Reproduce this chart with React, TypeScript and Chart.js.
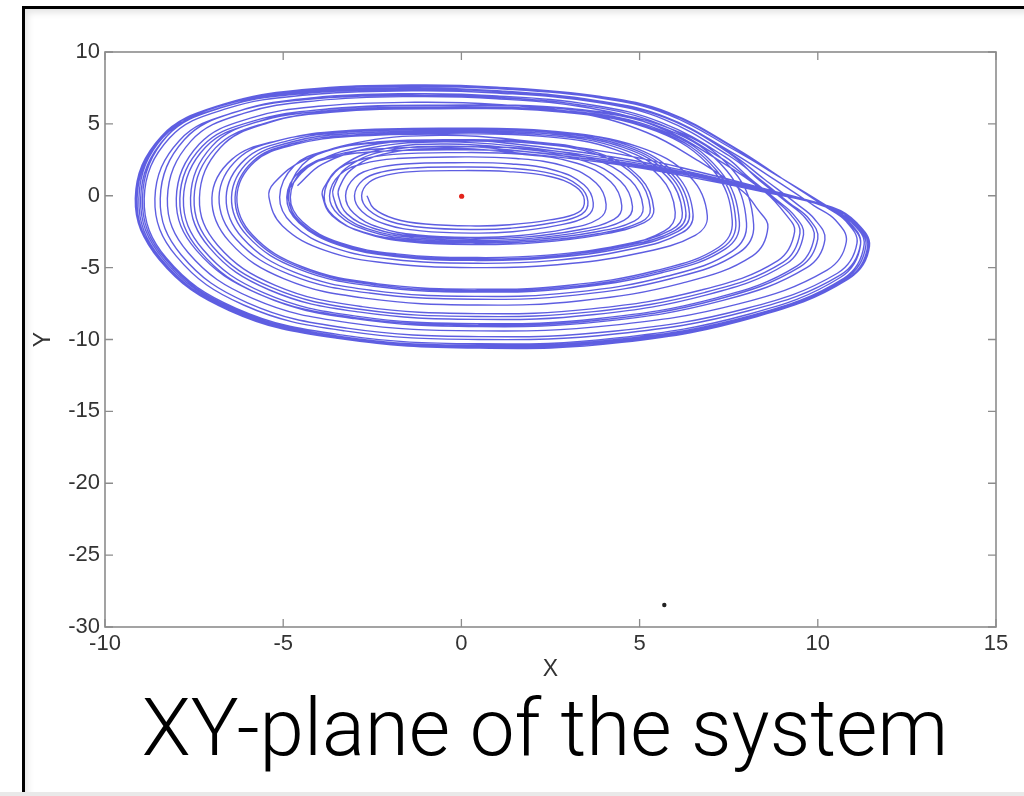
import { useEffect, useRef } from 'react';
import { Chart, registerables } from 'chart.js';

Chart.register(...registerables);

const X_TICKS = [-10, -5, 0, 5, 10, 15];
const Y_TICKS = [10, 5, 0, -5, -10, -15, -20, -25, -30];
const X_LABEL = 'X';
const Y_LABEL = 'Y';
const CAPTION = 'XY-plane of the system';

// equilibrium points
const EQ_INNER = [[0.007, -0.035]];
const EQ_OUTER = [[5.693, -28.465]];

// trajectory, one revolution per array
const rev01 = [[-2.65,0],[-2.46,-0.88],[-1.88,-1.6],[-1.01,-1.97],[0.4,-2.1],[1.35,-2.02],[2.48,-1.68],[3.28,-1.16],[3.45,-0.3],[3.21,0.62],[2.48,1.34],[1.31,1.68],[-0.2,1.75],[-1.37,1.68],[-2.07,1.45],[-2.58,0.96]];
const rev02 = [[-2.8,0],[-2.6,-0.99],[-1.99,-1.79],[-1.06,-2.21],[0.4,-2.35],[1.38,-2.26],[2.56,-1.88],[3.37,-1.29],[3.55,-0.4],[3.3,0.68],[2.56,1.52],[1.35,1.92],[-0.2,2.0],[-1.47,1.92],[-2.22,1.66],[-2.76,1.1]];
const rev03 = [[-3.0,0],[-2.79,-1.09],[-2.13,-1.98],[-1.14,-2.44],[0.4,-2.6],[1.44,-2.5],[2.66,-2.08],[3.52,-1.43],[3.7,-0.5],[3.44,0.76],[2.66,1.74],[1.41,2.21],[-0.2,2.3],[-1.59,2.21],[-2.41,1.91],[-2.99,1.27]];
const rev04 = [[-3.25,0],[-3.02,-1.22],[-2.31,-2.2],[-1.24,-2.73],[0.4,-2.9],[1.58,-2.78],[2.92,-2.32],[3.86,-1.6],[4.06,-0.6],[3.78,0.89],[2.92,2.04],[1.54,2.59],[-0.25,2.7],[-1.81,2.59],[-2.74,2.24],[-3.4,1.49]];
const rev05 = [[-3.7,0],[-3.44,-1.34],[-2.63,-2.43],[-1.41,-3.01],[0.4,-3.2],[1.99,-3.07],[3.67,-2.56],[4.85,-1.76],[5.1,-0.8],[4.74,1.09],[3.67,2.56],[1.94,3.26],[-0.3,3.4],[-2.35,3.26],[-3.55,2.82],[-4.42,1.87]];
const rev06 = [[-4.8,-0.1],[-4.46,-1.81],[-3.41,-3.27],[-1.82,-4.04],[0.45,-4.3],[2.42,-4.13],[4.46,-3.44],[5.89,-2.37],[6.2,-1.2],[5.77,1.32],[4.46,3.28],[2.36,4.22],[-0.4,4.4],[-3.11,4.22],[-4.7,3.65],[-5.84,2.42]];
const rev07 = [[-6.35,-0.1],[-5.91,-2.77],[-4.51,-5.02],[-2.41,-6.2],[0.45,-6.6],[3.0,-6.34],[5.54,-5.28],[7.32,-3.63],[7.7,-1.8],[7.16,1.76],[5.54,4.52],[2.93,5.86],[-0.8,6.1],[-3.6,5.86],[-5.44,5.06],[-6.76,3.36]];
const rev08 = [[-7.35,-0.15],[-6.84,-3.44],[-5.22,-6.23],[-2.79,-7.71],[0.45,-8.2],[3.65,-7.87],[6.73,-6.56],[8.88,-4.51],[9.35,-2.5],[9.1,-1.3],[8.5,0.3],[7.2,2.5],[5.5,4.8],[3.6,6.1],[1.0,6.75],[-1.4,6.9],[-4.04,6.62],[-6.11,5.73],[-7.59,3.8]];
const rev09 = [[-8.25,-0.2],[-7.67,-3.95],[-5.86,-7.14],[-3.14,-8.84],[0.5,-9.4],[4.21,-9.02],[7.78,-7.52],[10.26,-5.17],[10.8,-3.2],[10.5,-1.7],[9.9,-0.7],[8.8,1.1],[7.6,3.0],[5.7,5.5],[3.8,6.6],[1.0,7.3],[-1.4,7.5],[-4.48,7.2],[-6.77,6.23],[-8.42,4.13]];
const rev10 = [[-9.15,-0.2],[-8.5,-4.3],[-6.5,-8.0],[-3.5,-9.9],[0.5,-10.6],[4.5,-10.2],[8.3,-8.4],[10.9,-5.7],[11.45,-3.5],[11.1,-1.9],[10.4,-0.8],[8.6,0.3],[6.2,1.6],[4.3,2.4],[1.5,3.3],[-0.5,3.6],[-2.3,3.2],[-3.4,2.0],[-3.85,0.6]];
const rev11 = [[-3.9,0],[-3.63,-1.39],[-2.77,-2.51],[-1.48,-3.1],[0.4,-3.3],[2.07,-3.17],[3.82,-2.64],[5.04,-1.82],[5.3,-0.9],[4.93,1.22],[3.82,2.86],[2.01,3.65],[-0.3,3.8],[-2.5,3.65],[-3.77,3.15],[-4.69,2.09]];
const rev12 = [[-5.1,-0.1],[-4.74,-1.97],[-3.62,-3.57],[-1.94,-4.42],[0.45,-4.7],[2.54,-4.51],[4.68,-3.76],[6.18,-2.59],[6.5,-1.3],[6.05,1.4],[4.68,3.5],[2.47,4.51],[-0.4,4.7],[-3.33,4.51],[-5.03,3.9],[-6.26,2.59]];
const rev13 = [[-6.8,-0.1],[-6.32,-3.02],[-4.83,-5.47],[-2.58,-6.77],[0.45,-7.2],[3.2,-6.91],[5.9,-5.76],[7.79,-3.96],[8.2,-2.0],[7.63,1.74],[5.9,4.64],[3.12,6.05],[-0.9,6.3],[-3.72,6.05],[-5.62,5.23],[-6.99,3.47]];
const rev14 = [[-7.6,-0.15],[-7.07,-3.61],[-5.4,-6.54],[-2.89,-8.08],[0.45,-8.6],[3.74,-8.26],[6.91,-6.88],[9.12,-4.73],[9.6,-2.7],[9.35,-1.4],[8.8,-0.2],[8.1,1.2],[7.4,2.7],[5.6,5.1],[3.7,6.3],[1.0,6.95],[-1.4,7.1],[-4.14,6.82],[-6.25,5.89],[-7.77,3.91]];
const rev15 = [[-8.45,-0.2],[-7.86,-4.12],[-6.0,-7.45],[-3.21,-9.21],[0.5,-9.8],[4.33,-9.41],[7.99,-7.84],[10.55,-5.39],[11.1,-3.3],[10.8,-1.8],[10.2,-0.75],[9.0,1.2],[7.7,3.3],[5.8,5.8],[3.9,6.9],[1.0,7.55],[-1.4,7.7],[-4.39,7.39],[-6.62,6.39],[-8.23,4.24]];
const rev16 = [[-8.95,-0.2],[-8.32,-4.37],[-6.35,-7.9],[-3.4,-9.78],[0.5,-10.4],[4.41,-9.98],[8.14,-8.32],[10.74,-5.72],[11.3,-3.4],[10.95,-1.85],[10.3,-0.8],[8.5,0.5],[6.1,2.0],[4.2,3.0],[1.5,3.9],[-0.6,4.2],[-2.7,3.8],[-4.4,2.5],[-5.25,0.9]];
const rev17 = [[-5.4,-0.1],[-5.02,-2.1],[-3.83,-3.8],[-2.05,-4.7],[0.45,-5.0],[2.69,-4.8],[4.97,-4.0],[6.56,-2.75],[6.9,-1.4],[6.42,1.3],[4.97,3.4],[2.62,4.42],[-0.5,4.6],[-3.43,4.42],[-5.18,3.82],[-6.44,2.53]];
const rev18 = [[-7.0,-0.15],[-6.51,-3.19],[-4.97,-5.78],[-2.66,-7.14],[0.45,-7.6],[3.35,-7.3],[6.19,-6.08],[8.17,-4.18],[8.6,-2.2],[8.3,-0.9],[7.9,0.3],[6.6,2.5],[5.2,4.4],[3.4,5.7],[1.0,6.35],[-1.3,6.5],[-3.92,6.24],[-5.92,5.4],[-7.36,3.58]];
const rev19 = [[-8.0,-0.2],[-7.44,-3.78],[-5.68,-6.84],[-3.04,-8.46],[0.5,-9.0],[3.9,-8.64],[7.2,-7.2],[9.5,-4.95],[10.0,-3.0],[9.75,-1.6],[9.2,-0.5],[8.4,1.1],[7.5,2.8],[5.7,5.3],[3.8,6.5],[1.0,7.15],[-1.4,7.3],[-4.36,7.01],[-6.59,6.06],[-8.19,4.02]];
const rev20 = [[-8.9,-0.2],[-8.28,-4.33],[-6.32,-7.83],[-3.38,-9.68],[0.5,-10.3],[4.37,-9.89],[8.06,-8.24],[10.64,-5.67],[11.2,-3.4],[10.85,-1.85],[10.2,-0.75],[8.6,0.2],[6.2,1.4],[4.3,2.2],[1.5,3.0],[-0.4,3.3],[-2.2,2.9],[-3.1,1.8],[-3.42,0.6]];
const rev21 = [[-3.45,0],[-3.21,-1.26],[-2.45,-2.28],[-1.31,-2.82],[0.4,-3.0],[1.76,-2.88],[3.24,-2.4],[4.28,-1.65],[4.5,-0.7],[4.19,0.97],[3.24,2.26],[1.71,2.88],[-0.3,3.0],[-1.89,2.88],[-2.85,2.49],[-3.54,1.65]];
const rev22 = [[-3.85,-0.05],[-3.58,-1.43],[-2.73,-2.58],[-1.46,-3.2],[0.4,-3.4],[2.11,-3.26],[3.89,-2.72],[5.13,-1.87],[5.4,-0.95],[5.02,1.23],[3.89,2.93],[2.05,3.74],[-0.35,3.9],[-2.38,3.74],[-3.59,3.24],[-4.46,2.15]];
const rev23 = [[-4.85,-0.1],[-4.51,-1.85],[-3.44,-3.34],[-1.84,-4.14],[0.45,-4.4],[2.46,-4.22],[4.54,-3.52],[5.99,-2.42],[6.3,-1.2],[5.86,1.37],[4.54,3.36],[2.39,4.32],[-0.4,4.5],[-3.16,4.32],[-4.77,3.74],[-5.93,2.48]];
const rev24 = [[-6.45,-0.1],[-6.0,-2.81],[-4.58,-5.09],[-2.45,-6.3],[0.45,-6.7],[3.04,-6.43],[5.62,-5.36],[7.41,-3.69],[7.8,-1.85],[7.25,1.75],[5.62,4.55],[2.96,5.9],[-0.8,6.15],[-3.82,5.9],[-5.77,5.1],[-7.18,3.38]];
const rev25 = [[-7.8,-0.2],[-7.25,-3.74],[-5.54,-6.76],[-2.96,-8.37],[0.5,-8.9],[3.86,-8.54],[7.13,-7.12],[9.41,-4.9],[9.9,-2.9],[9.65,-1.55],[9.1,-0.4],[8.3,1.2],[7.55,2.9],[5.75,5.4],[3.85,6.55],[1.0,7.25],[-1.4,7.4],[-4.46,7.1],[-6.73,6.14],[-8.37,4.07]];
const rev26 = [[-9.1,-0.2],[-8.46,-4.41],[-6.46,-7.98],[-3.46,-9.87],[0.5,-10.5],[4.45,-10.08],[8.21,-8.4],[10.83,-5.78],[11.4,-3.5],[11.05,-1.9],[10.35,-0.8],[8.55,0.4],[6.15,1.8],[4.25,2.7],[1.5,3.6],[-0.5,3.9],[-2.6,3.5],[-4.1,2.3],[-4.8,0.6],[-4.85,-0.3]];
const rev27 = [[-4.53,-1.9],[-3.46,-3.42],[-1.85,-4.23],[0.45,-4.5],[2.5,-4.32],[4.61,-3.6],[6.08,-2.48],[6.4,-1.25],[5.95,1.39],[4.61,3.43],[2.43,4.42],[-0.4,4.6],[-3.23,4.42],[-4.88,3.82],[-6.07,2.53]];
const rev28 = [[-6.6,-0.1],[-6.14,-2.94],[-4.69,-5.32],[-2.51,-6.58],[0.45,-7.0],[3.12,-6.72],[5.76,-5.6],[7.6,-3.85],[8.0,-1.9],[7.44,1.76],[5.76,4.62],[3.04,6.0],[-0.85,6.25],[-3.87,6.0],[-5.85,5.19],[-7.27,3.44]];
const rev29 = [[-7.9,-0.2],[-7.35,-3.82],[-5.61,-6.92],[-3.0,-8.55],[0.5,-9.1],[3.98,-8.74],[7.34,-7.28],[9.69,-5.0],[10.2,-3.05],[9.9,-1.6],[9.4,-0.55],[8.5,1.15],[7.55,2.95],[5.75,5.45],[3.85,6.6],[1.0,7.3],[-1.4,7.45],[-4.41,7.15],[-6.66,6.18],[-8.28,4.1]];
const rev30 = [[-9.0,-0.2],[-8.37,-4.39],[-6.39,-7.94],[-3.42,-9.82],[0.5,-10.45],[4.43,-10.03],[8.17,-8.36],[10.78,-5.75],[11.35,-3.45],[11.0,-1.88],[10.3,-0.78],[9.0,1.2],[7.65,3.2],[5.8,5.65],[3.9,6.8],[1.0,7.45],[-1.4,7.6],[-4.47,7.3],[-6.75,6.31],[-8.39,4.18]];
const rev31 = [[-9.12,-0.2],[-8.48,-4.43],[-6.48,-8.02],[-3.47,-9.92],[0.5,-10.55],[4.45,-10.13],[8.22,-8.44],[10.85,-5.8],[11.42,-3.5],[11.08,-1.9],[10.38,-0.8],[8.6,0.25],[6.2,1.5],[4.3,2.3],[1.5,3.15],[-0.45,3.45],[-2.25,3.05],[-3.25,1.9],[-3.58,0.6]];
const rev32 = [[-3.6,0],[-3.35,-1.3],[-2.56,-2.36],[-1.37,-2.91],[0.4,-3.1],[1.87,-2.98],[3.46,-2.48],[4.56,-1.71],[4.8,-0.75],[4.46,1.02],[3.46,2.41],[1.82,3.07],[-0.3,3.2],[-2.4,3.07],[-3.63,2.66],[-4.51,1.76]];
const rev33 = [[-4.9,-0.1],[-4.56,-1.87],[-3.48,-3.38],[-1.86,-4.18],[0.45,-4.45],[2.34,-4.27],[4.32,-3.56],[5.7,-2.45],[6.0,-1.15],[5.58,1.3],[4.32,3.21],[2.28,4.13],[-0.4,4.3],[-3.09,4.13],[-4.66,3.57],[-5.8,2.37]];
const rev34 = [[-6.3,-0.1],[-5.86,-2.73],[-4.47,-4.94],[-2.39,-6.11],[0.45,-6.5],[2.96,-6.24],[5.47,-5.2],[7.22,-3.58],[7.6,-1.75],[7.07,1.76],[5.47,4.49],[2.89,5.81],[-0.8,6.05],[-3.68,5.81],[-5.55,5.02],[-6.9,3.33]];
const rev35 = [[-7.5,-0.15],[-6.98,-3.53],[-5.33,-6.38],[-2.85,-7.9],[0.45,-8.4],[3.71,-8.06],[6.84,-6.72],[9.03,-4.62],[9.5,-2.6],[9.25,-1.35],[8.7,-0.1],[8.0,1.3],[7.3,2.6],[5.55,5.0],[3.65,6.2],[1.0,6.85],[-1.4,7.0],[-4.21,6.72],[-6.36,5.81],[-7.91,3.85]];
const rev36 = [[-8.6,-0.2],[-8.0,-4.2],[-6.11,-7.6],[-3.27,-9.4],[0.5,-10.0],[4.37,-9.6],[8.06,-8.0],[10.64,-5.5],[11.2,-3.35],[10.88,-1.82],[10.25,-0.77],[9.0,1.2],[7.7,3.25],[5.8,5.75],[3.9,6.85],[1.0,7.5],[-1.4,7.65],[-4.43,7.34],[-6.7,6.35],[-8.33,4.21]];
const rev37 = [[-9.05,-0.2],[-8.42,-4.41],[-6.43,-7.98],[-3.44,-9.87],[0.5,-10.5],[4.45,-10.08],[8.21,-8.4],[10.83,-5.78],[11.4,-3.5],[11.05,-1.9],[10.35,-0.8],[8.55,0.35],[6.15,1.7],[4.25,2.55],[1.5,3.45],[-0.5,3.75],[-2.5,3.35],[-3.9,2.2],[-4.6,0.7]];

const REVOLUTIONS = [rev01, rev02, rev03, rev04, rev05, rev06, rev07, rev08, rev09, rev10, rev11, rev12, rev13,
  rev14, rev15, rev16, rev17, rev18, rev19, rev20, rev21, rev22, rev23, rev24, rev25, rev26, rev27, rev28,
  rev29, rev30, rev31, rev32, rev33, rev34, rev35, rev36, rev37];

const toXY = (arr: number[][]) => arr.map(([x, y]) => ({ x, y }));

const AXIS_GREY = '#8c8c8c';
const LABEL_COLOR = '#333333';
const TICK_FONT = { family: '"Liberation Sans", Arial, sans-serif', size: 22 };

const boxPlugin = {
  id: 'matlabBox',
  afterDraw(chart: any) {
    const { ctx, chartArea: a, scales } = chart;
    const xs = scales.x;
    const ys = scales.y;
    ctx.save();
    ctx.strokeStyle = AXIS_GREY;
    ctx.lineWidth = 1.6;
    ctx.strokeRect(a.left, a.top, a.right - a.left, a.bottom - a.top);
    ctx.lineWidth = 1.3;
    ctx.beginPath();
    X_TICKS.forEach((v) => {
      const p = xs.getPixelForValue(v);
      ctx.moveTo(p, a.bottom); ctx.lineTo(p, a.bottom - 8);
      ctx.moveTo(p, a.top); ctx.lineTo(p, a.top + 8);
    });
    Y_TICKS.forEach((v) => {
      const p = ys.getPixelForValue(v);
      ctx.moveTo(a.left, p); ctx.lineTo(a.left + 8, p);
      ctx.moveTo(a.right, p); ctx.lineTo(a.right - 8, p);
    });
    ctx.stroke();
    ctx.fillStyle = LABEL_COLOR;
    ctx.font = '23px "Liberation Sans", Arial, sans-serif';
    ctx.textAlign = 'center';
    ctx.textBaseline = 'middle';
    ctx.fillText(X_LABEL, (a.left + a.right) / 2, a.bottom + 43);
    ctx.translate(a.left - 61, (a.top + a.bottom) / 2);
    ctx.rotate(-Math.PI / 2);
    ctx.fillText(Y_LABEL, 0, 0);
    ctx.restore();
  },
};

export default function App() {
  const ref = useRef<HTMLCanvasElement | null>(null);

  useEffect(() => {
    if (!ref.current) return;
    const chart = new Chart(ref.current, {
      type: 'scatter',
      data: {
        datasets: [
          {
            data: toXY(REVOLUTIONS.flat()),
            showLine: true,
            borderColor: 'rgba(25,25,212,0.7)',
            borderWidth: 1.4,
            pointRadius: 0,
            tension: 0.4,
            order: 3,
          },
          {
            data: toXY(EQ_INNER),
            pointRadius: 2.6,
            pointBackgroundColor: '#e3241b',
            pointBorderWidth: 0,
            order: 1,
          },
          {
            data: toXY(EQ_OUTER),
            pointRadius: 2.2,
            pointBackgroundColor: '#222',
            pointBorderWidth: 0,
            order: 2,
          },
        ],
      } as any,
      options: {
        responsive: false,
        animation: false,
        layout: { padding: { left: 25, top: 52, right: 28, bottom: 109 } },
        plugins: { legend: { display: false }, tooltip: { enabled: false } },
        scales: {
          x: {
            type: 'linear',
            min: X_TICKS[0],
            max: X_TICKS[X_TICKS.length - 1],
            afterBuildTicks: (s: any) => { s.ticks = X_TICKS.map((v) => ({ value: v })); },
            afterFit: (s: any) => { s.height = 60; },
            grid: { display: false, drawTicks: false },
            border: { display: false },
            ticks: { padding: 4, font: TICK_FONT, color: LABEL_COLOR, maxRotation: 0 },
          },
          y: {
            type: 'linear',
            min: Y_TICKS[Y_TICKS.length - 1],
            max: Y_TICKS[0],
            afterBuildTicks: (s: any) => { s.ticks = Y_TICKS.map((v) => ({ value: v })); },
            afterFit: (s: any) => { s.width = 80; },
            grid: { display: false, drawTicks: false },
            border: { display: false },
            ticks: { padding: 5, font: TICK_FONT, color: LABEL_COLOR },
          },
        },
      } as any,
      plugins: [boxPlugin],
    });
    return () => chart.destroy();
  }, []);

  return (
    <div style={{ position: 'fixed', left: 0, top: 0, width: 1024, height: 796, background: '#fff', overflow: 'hidden' }}>
      <div
        style={{
          position: 'absolute', left: 22, top: 6, width: 1100, height: 900,
          borderLeft: '3px solid #000', borderTop: '3px solid #000',
          boxShadow: 'inset 3px 4px 6px rgba(0,0,0,0.10)',
        }}
      />
      <div style={{ position: 'absolute', left: 0, top: 792, width: 1024, height: 4, background: '#e9e9e9' }} />
      <canvas ref={ref} width={1024} height={796} style={{ position: 'absolute', left: 0, top: 0 }} />
      <div
        style={{
          position: 'absolute', left: 545, top: 688, transform: 'translateX(-50%)',
          fontFamily: 'Roboto, "Liberation Sans", sans-serif', fontWeight: 300, fontSize: 80,
          lineHeight: 1, whiteSpace: 'nowrap', color: '#000',
        }}
      >
        {CAPTION}
      </div>
    </div>
  );
}
